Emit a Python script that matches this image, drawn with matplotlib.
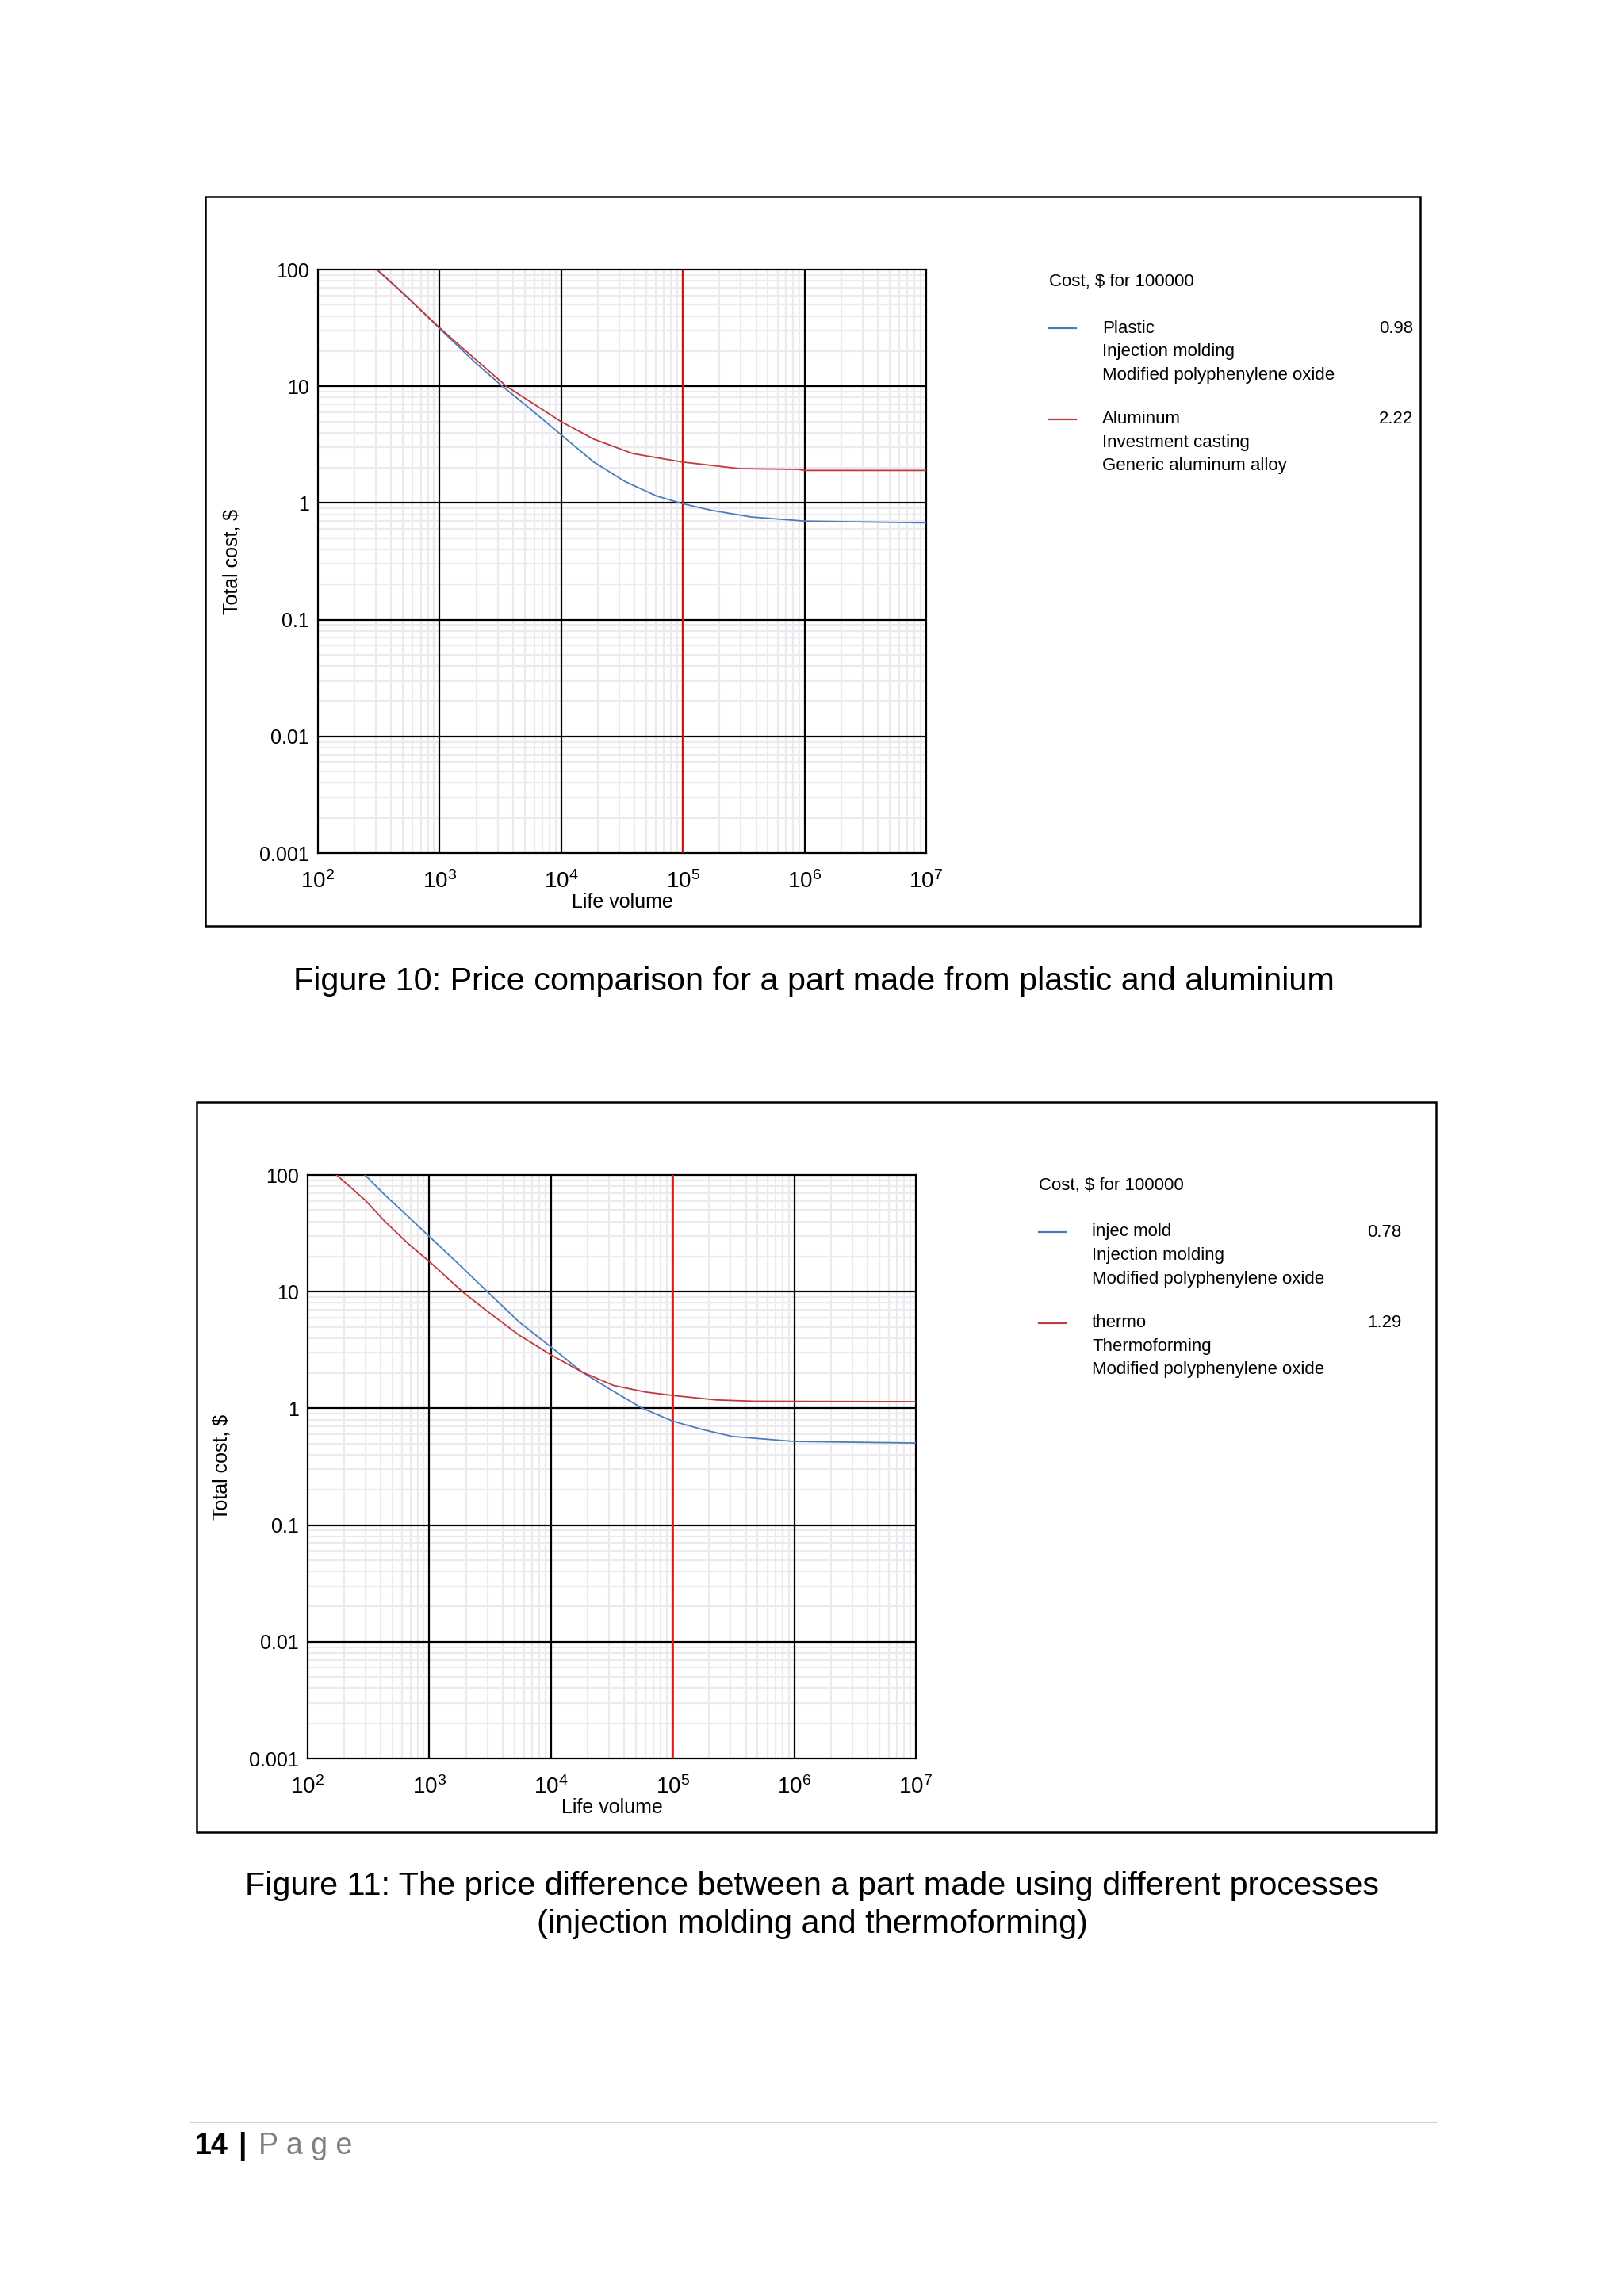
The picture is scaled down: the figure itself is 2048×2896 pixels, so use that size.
import numpy as np
import matplotlib
matplotlib.use("Agg")
import matplotlib.pyplot as plt
from matplotlib.lines import Line2D
from matplotlib.patches import Rectangle
from matplotlib.ticker import FixedLocator, FixedFormatter, LogLocator, NullFormatter

W, H = 2048, 2896
DPI = 200

plt.rcParams['font.family'] = ['Liberation Sans']
plt.rcParams['mathtext.fontset'] = 'custom'
plt.rcParams['mathtext.rm'] = 'Liberation Sans'
plt.rcParams['mathtext.it'] = 'Liberation Sans'

chart_font = 'Liberation Sans'
page_font = 'Liberation Sans'

# ---- data ----
# Figure 10: plastic vs aluminium
vol_plastic = [305, 546, 1000, 1945, 3280, 5550, 1e4, 18300, 33300, 60500, 1e5, 172000, 365000, 1e6, 1e7]
cost_plastic = [100, 57.8, 31.2, 16.1, 10.0, 6.41, 3.83, 2.26, 1.53, 1.15, 0.985, 0.865, 0.759, 0.70, 0.676]
vol_alu = [305, 437, 1000, 1443, 3540, 1e4, 18300, 38700, 1e5, 291000, 893000, 1e6, 1e7]
cost_alu = [100, 71.3, 31.7, 22.6, 10.0, 4.97, 3.54, 2.65, 2.24, 1.97, 1.94, 1.90, 1.90]

# Figure 11: injection molding vs thermoforming
vol_injec = [296, 430, 698, 1014, 1914, 3000, 5460, 1e4, 18000, 30500, 55500, 1e5, 170000, 309000, 1e6, 1e7]
cost_injec = [100, 67.6, 42.3, 29.3, 15.7, 10.0, 5.51, 3.36, 2.05, 1.46, 1.01, 0.778, 0.665, 0.575, 0.521, 0.505]
vol_thermo = [173, 296, 430, 673, 1014, 1914, 3000, 5460, 1e4, 18000, 32800, 59700, 1e5, 229000, 467000, 1e7]
cost_thermo = [100, 61.0, 40.1, 25.7, 17.9, 9.8, 6.79, 4.25, 2.87, 2.05, 1.57, 1.38, 1.29, 1.18, 1.15, 1.14]

ref_volume = 1e5
ytick_vals = [1e-3, 1e-2, 1e-1, 1, 10, 100]
ytick_labels = ['0.001', '0.01', '0.1', '1', '10', '100']
xtick_vals = [1e2, 1e3, 1e4, 1e5, 1e6, 1e7]
xtick_labels = [r'$10^{2}$', r'$10^{3}$', r'$10^{4}$', r'$10^{5}$', r'$10^{6}$', r'$10^{7}$']

legend1_names = [['Plastic', 'Injection molding', 'Modified polyphenylene oxide'],
                 ['Aluminum', 'Investment casting', 'Generic aluminum alloy']]
legend1_values = ['0.98', '2.22']
legend2_names = [['injec mold', 'Injection molding', 'Modified polyphenylene oxide'],
                 ['thermo', 'Thermoforming', 'Modified polyphenylene oxide']]
legend2_values = ['0.78', '1.29']

BLUE = '#4a7ebb'
RED = '#c0393b'

fig = plt.figure(figsize=(W / DPI, H / DPI), dpi=DPI)


def fx(x):
    return x / W


def fy(y):
    return 1 - y / H


def rect(l, t, r, b):
    return [fx(l), fy(b), (r - l) / W, (b - t) / H]


def draw_chart(box, axbox, series, names, values, leg_x, leg_y, val_x):
    l, t, r, b = box
    fig.patches.append(Rectangle((fx(l), fy(b)), (r - l) / W, (b - t) / H,
                                 transform=fig.transFigure, facecolor='none',
                                 edgecolor='black', lw=0.9, zorder=5))
    ax = fig.add_axes(rect(*axbox))
    ax.set_xscale('log')
    ax.set_yscale('log')
    ax.set_xlim(1e2, 1e7)
    ax.set_ylim(1e-3, 1e2)

    ax.xaxis.set_major_locator(FixedLocator(xtick_vals))
    ax.xaxis.set_major_formatter(FixedFormatter(xtick_labels))
    ax.yaxis.set_major_locator(FixedLocator(ytick_vals))
    ax.yaxis.set_major_formatter(FixedFormatter(ytick_labels))
    for axis in (ax.xaxis, ax.yaxis):
        axis.set_minor_locator(LogLocator(base=10, subs=np.arange(2, 10), numticks=20))
        axis.set_minor_formatter(NullFormatter())

    # light minor grid underneath, black decade lines on top of it
    ax.grid(True, which='minor', color='#ecE9ef', lw=0.8)
    ax.grid(False, which='major')
    ax.set_axisbelow(True)
    for v in xtick_vals[1:-1]:
        ax.axvline(v, color='black', lw=0.8, zorder=2)
    for v in ytick_vals[1:-1]:
        ax.axhline(v, color='black', lw=0.8, zorder=2)

    ax.tick_params(which='both', length=0)
    ax.tick_params(axis='y', pad=4, labelsize=9)
    ax.tick_params(axis='x', pad=8, labelsize=10)
    for sp in ax.spines.values():
        sp.set_linewidth(0.8)
        sp.set_color('black')

    ax.axvline(ref_volume, color='#ee1111', lw=0.95, zorder=3)
    for xs, ys, c in series:
        ax.plot(xs, ys, color=c, lw=0.65, zorder=4)

    ax.set_xlabel('Life volume', family=chart_font, fontsize=9, labelpad=0)
    ax.set_ylabel('Total cost, $', family=page_font, fontsize=9, labelpad=8)

    # legend block to the right of the plot
    fig.text(fx(leg_x), fy(leg_y), 'Cost, $ for 100000', family=chart_font,
             fontsize=8, va='center', ha='left')
    for i, (entry, val) in enumerate(zip(names, values)):
        y0 = leg_y + 59 + i * 115
        color = series[i][2]
        fig.add_artist(Line2D([fx(leg_x), fx(leg_x + 34)], [fy(y0), fy(y0)],
                              color=color, lw=0.8, transform=fig.transFigure))
        for k, line in enumerate(entry):
            fig.text(fx(leg_x + 67), fy(y0 + k * 29.5), line, family=chart_font,
                     fontsize=8, va='center', ha='left')
        fig.text(fx(val_x), fy(y0), val, family=chart_font, fontsize=8,
                 va='center', ha='right')
    return ax


draw_chart((259, 248, 1791, 1168), (401, 340, 1168, 1076),
           [(vol_plastic, cost_plastic, BLUE), (vol_alu, cost_alu, RED)],
           legend1_names, legend1_values, 1323, 355, 1782)

draw_chart((248, 1390, 1811, 2311), (388, 1482, 1155, 2218),
           [(vol_injec, cost_injec, BLUE), (vol_thermo, cost_thermo, RED)],
           legend2_names, legend2_values, 1310, 1495, 1767)

# captions
fig.text(fx(1026), fy(1238), 'Figure 10: Price comparison for a part made from plastic and aluminium',
         family=page_font, fontsize=14.9, ha='center', va='center')
fig.text(fx(1024), fy(2379), 'Figure 11: The price difference between a part made using different processes',
         family=page_font, fontsize=14.9, ha='center', va='center')
fig.text(fx(1024), fy(2427), '(injection molding and thermoforming)',
         family=page_font, fontsize=14.9, ha='center', va='center')

# footer
fig.add_artist(Line2D([fx(240), fx(1811)], [fy(2677), fy(2677)], color='#d4d4d4',
                      lw=0.8, transform=fig.transFigure))
fig.text(fx(246), fy(2717), '14', family=page_font, fontsize=13.5, weight='bold',
         ha='left', va='baseline')
fig.text(fx(300), fy(2717), '|', family=page_font, fontsize=13.5, weight='bold',
         ha='left', va='baseline')
fig.text(fx(326), fy(2717), 'P a g e', family=page_font, fontsize=13.5, color='#7f7f7f',
         ha='left', va='baseline')

fig.savefig('out.png', dpi=DPI, facecolor='white')
